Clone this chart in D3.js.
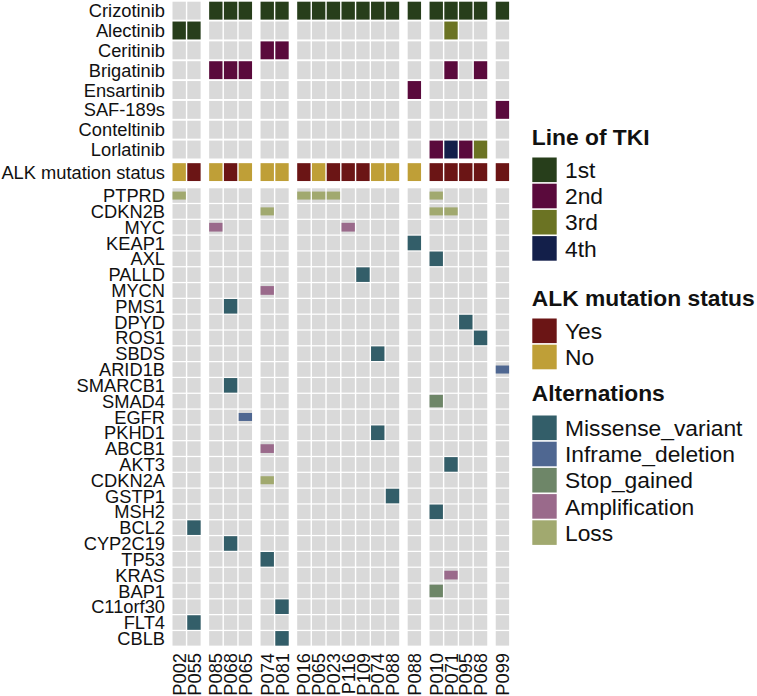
<!DOCTYPE html>
<html>
<head>
<meta charset="utf-8">
<script src="https://cdn.jsdelivr.net/npm/d3@7/dist/d3.min.js"></script>
<style>
  html, body { margin: 0; padding: 0; background: #ffffff; }
  svg { display: block; }
  text { font-family: "Liberation Sans", Arial, Helvetica, sans-serif; fill: #111111; }
</style>
</head>
<body>
<svg id="chart" width="757" height="696"></svg>
<script>
// ---------------- DATA ----------------
const patients = ["P002","P055","P085","P068","P065","P074","P081","P016","P065","P023","P116","P109","P074","P088","P088","P010","P071","P095","P068","P099"];
const patientGroups = [1,1,2,2,2,3,3,4,4,4,4,4,4,4,5,6,6,6,6,7];

const drugs = ["Crizotinib","Alectinib","Ceritinib","Brigatinib","Ensartinib","SAF-189s","Conteltinib","Lorlatinib"];
const lineLevels = ["1st","2nd","3rd","4th"];

// line of TKI per drug, one entry per patient column ("" = not used)
const tkiCrizotinib  = ["","","1st","1st","1st","1st","1st","1st","1st","1st","1st","1st","1st","1st","1st","1st","1st","1st","1st","1st"];
const tkiAlectinib   = ["1st","1st","","","","","","","","","","","","","","","3rd","","",""];
const tkiCeritinib   = ["","","","","","2nd","2nd","","","","","","","","","","","","",""];
const tkiBrigatinib  = ["","","2nd","2nd","2nd","","","","","","","","","","","","2nd","","2nd",""];
const tkiEnsartinib  = ["","","","","","","","","","","","","","","2nd","","","","",""];
const tkiSAF189s     = ["","","","","","","","","","","","","","","","","","","","2nd"];
const tkiConteltinib = ["","","","","","","","","","","","","","","","","","","",""];
const tkiLorlatinib  = ["","","","","","","","","","","","","","","","2nd","4th","2nd","3rd",""];
const tkiMatrix = [tkiCrizotinib, tkiAlectinib, tkiCeritinib, tkiBrigatinib, tkiEnsartinib, tkiSAF189s, tkiConteltinib, tkiLorlatinib];

const alkLevels = ["Yes","No"];
const alkStatus = ["No","Yes","No","Yes","No","No","No","Yes","No","Yes","Yes","Yes","No","No","No","Yes","Yes","Yes","Yes","Yes"];

const genes = ["PTPRD","CDKN2B","MYC","KEAP1","AXL","PALLD","MYCN","PMS1","DPYD","ROS1","SBDS","ARID1B","SMARCB1","SMAD4","EGFR","PKHD1","ABCB1","AKT3","CDKN2A","GSTP1","MSH2","BCL2","CYP2C19","TP53","KRAS","BAP1","C11orf30","FLT4","CBLB"];
const alterationTypes = ["Missense_variant","Inframe_deletion","Stop_gained","Amplification","Loss"];

// [gene, patient column index, alteration]
const alterations = [
  ["PTPRD",0,"Loss"],["PTPRD",7,"Loss"],["PTPRD",8,"Loss"],["PTPRD",9,"Loss"],["PTPRD",15,"Loss"],
  ["CDKN2B",5,"Loss"],["CDKN2B",15,"Loss"],["CDKN2B",16,"Loss"],
  ["MYC",2,"Amplification"],["MYC",10,"Amplification"],
  ["KEAP1",14,"Missense_variant"],
  ["AXL",15,"Missense_variant"],
  ["PALLD",11,"Missense_variant"],
  ["MYCN",5,"Amplification"],
  ["PMS1",3,"Missense_variant"],
  ["DPYD",17,"Missense_variant"],
  ["ROS1",18,"Missense_variant"],
  ["SBDS",12,"Missense_variant"],
  ["ARID1B",19,"Inframe_deletion"],
  ["SMARCB1",3,"Missense_variant"],
  ["SMAD4",15,"Stop_gained"],
  ["EGFR",4,"Inframe_deletion"],
  ["PKHD1",12,"Missense_variant"],
  ["ABCB1",5,"Amplification"],
  ["AKT3",16,"Missense_variant"],
  ["CDKN2A",5,"Loss"],
  ["GSTP1",13,"Missense_variant"],
  ["MSH2",15,"Missense_variant"],
  ["BCL2",1,"Missense_variant"],
  ["CYP2C19",3,"Missense_variant"],
  ["TP53",5,"Missense_variant"],
  ["KRAS",16,"Amplification"],
  ["BAP1",15,"Stop_gained"],
  ["C11orf30",6,"Missense_variant"],
  ["FLT4",1,"Missense_variant"],
  ["CBLB",6,"Missense_variant"]
];

// ---------------- STYLE ----------------
const bgColor = "#d9d9d9";
const lineColor = d3.scaleOrdinal().domain(lineLevels).range(["#273e1b","#5a0a3c","#6b7323","#131f4a"]);
const alkColor = d3.scaleOrdinal().domain(alkLevels).range(["#6b1515","#bf9f37"]);
const altColor = d3.scaleOrdinal().domain(alterationTypes).range(["#335e69","#4f6791","#6e8668","#9a6a8b","#a1a96f"]);
const altHeight = d3.scaleOrdinal().domain(alterationTypes).range([1.0, 0.55, 0.85, 0.6, 0.55]);

const svg = d3.select("#chart");

// ---------------- SCALES ----------------
const pitch = 14.7, groupGap = 7.1, x0 = 172.5;
const xBand = d3.scaleBand().domain(d3.range(patients.length))
  .range([0, patients.length * pitch]).paddingInner(0.095).paddingOuter(0);
const xPos = i => x0 + xBand(i) + (patientGroups[i] - 1) * groupGap;
const cw = xBand.bandwidth();

const yTki = d3.scaleBand().domain(drugs).range([1.7, 1.7 + drugs.length * 19.6]).paddingInner(0.097).paddingOuter(0);
const yAlk = d3.scaleBand().domain(["ALK mutation status"]).range([162.3, 162.3 + 19.6]).paddingInner(0).paddingOuter(0.0485);
const yGene = d3.scaleBand().domain(genes).range([188.3, 188.3 + genes.length * 15.77]).paddingInner(0.08).paddingOuter(0);

const labelX = 165;
const labelSize = 18.3;

// ---------------- TKI ROWS ----------------
const tkiG = svg.append("g");
drugs.forEach((drug, r) => {
  tkiMatrix[r].forEach((v, c) => {
    tkiG.append("rect")
      .attr("x", xPos(c)).attr("y", yTki(drug))
      .attr("width", cw).attr("height", yTki.bandwidth())
      .attr("fill", v ? lineColor(v) : bgColor);
  });
  tkiG.append("text").attr("x", labelX).attr("y", yTki(drug) + yTki.bandwidth() / 2)
    .attr("dy", "0.36em").attr("text-anchor", "end").attr("font-size", labelSize).text(drug);
});

// ---------------- ALK ROW ----------------
const alkG = svg.append("g");
alkStatus.forEach((v, c) => {
  alkG.append("rect")
    .attr("x", xPos(c)).attr("y", yAlk("ALK mutation status"))
    .attr("width", cw).attr("height", yAlk.bandwidth())
    .attr("fill", alkColor(v));
});
alkG.append("text").attr("x", labelX).attr("y", yAlk("ALK mutation status") + yAlk.bandwidth() / 2)
  .attr("dy", "0.36em").attr("text-anchor", "end").attr("font-size", labelSize).text("ALK mutation status");

// ---------------- GENE MATRIX ----------------
const geneG = svg.append("g");
genes.forEach(g => {
  patients.forEach((p, c) => {
    geneG.append("rect")
      .attr("x", xPos(c)).attr("y", yGene(g))
      .attr("width", cw).attr("height", yGene.bandwidth())
      .attr("fill", bgColor);
  });
  geneG.append("text").attr("x", labelX).attr("y", yGene(g) + yGene.bandwidth() / 2)
    .attr("dy", "0.36em").attr("text-anchor", "end").attr("font-size", labelSize).text(g);
});
alterations.forEach(([g, c, t]) => {
  const h = yGene.bandwidth() * altHeight(t);
  geneG.append("rect")
    .attr("x", xPos(c)).attr("y", yGene(g) + (yGene.bandwidth() - h) / 2)
    .attr("width", cw).attr("height", h)
    .attr("fill", altColor(t));
});

// ---------------- COLUMN LABELS ----------------
const colG = svg.append("g");
patients.forEach((p, c) => {
  const cx = xPos(c) + cw / 2;
  colG.append("text")
    .attr("transform", `translate(${cx},653) rotate(-90)`)
    .attr("dy", "0.36em").attr("text-anchor", "end").attr("font-size", labelSize).text(p);
});

// ---------------- LEGENDS ----------------
const legX = 532.3, legTextX = 565, legSize = 22.8, sw = 24.4, sh = 24.6, legPitch = 26.2;
function legend(title, titleBaseline, firstTop, items, color) {
  const g = svg.append("g");
  g.append("text").attr("x", legX - 0.5).attr("y", titleBaseline)
    .attr("font-size", legSize).attr("font-weight", "bold").text(title);
  items.forEach((it, i) => {
    const top = firstTop + i * legPitch;
    g.append("rect").attr("x", legX).attr("y", top).attr("width", sw).attr("height", sh).attr("fill", color(it));
    g.append("text").attr("x", legTextX).attr("y", top + sh / 2).attr("dy", "0.36em")
      .attr("font-size", legSize).text(it);
  });
}
legend("Line of TKI", 145, 157.5, lineLevels, lineColor);
legend("ALK mutation status", 306, 318.5, alkLevels, alkColor);
legend("Alternations", 401, 415.5, alterationTypes, altColor);
</script>
</body>
</html>
